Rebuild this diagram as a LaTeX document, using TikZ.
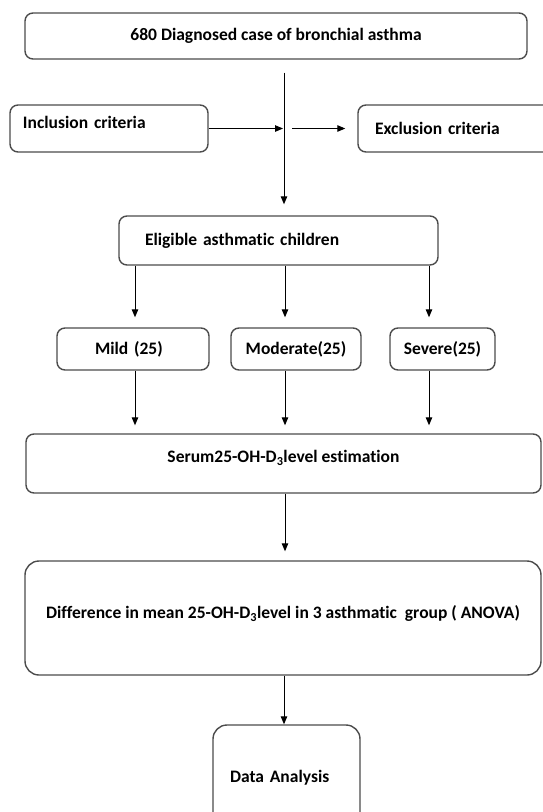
\documentclass[tikz,border=0pt]{standalone}
\usepackage{fontspec}
\setmainfont{Carlito}[Ligatures=NoCommon]
\usepackage{tikz}
\usetikzlibrary{arrows.meta}
\usetikzlibrary{positioning}

\begin{document}
\begin{tikzpicture}[
        x=1pt, y=-1pt,
        every node/.append style={font=\fontsize{17.5}{20}\selectfont\bfseries},
        stage/.style={draw=black!70, line width=1.4pt, rounded corners=8pt, align=center, inner sep=0pt},
        bigstage/.style={stage, rounded corners=14pt},
        arrow/.style={-{Triangle[length=8pt,width=6.5pt]}, line width=1pt, black},
    ]
    \fill[white] (0,0) rectangle (542,812);
    \useasboundingbox (0,0) rectangle (542,812);

    \node[stage, minimum width=502pt, minimum height=46pt] (diag) at (276,36) {680 Diagnosed case of bronchial asthma};
    \node[stage, align=left, inner xsep=13pt, text width=172pt, minimum height=47pt, text depth=12pt] (incl) at (109,128.5) {Inclusion criteria};
    \node[stage, align=left, inner xsep=17pt, text width=178pt, minimum height=47pt] (excl) at (464,128.5) {Exclusion criteria};
    \node[stage, align=left, inner xsep=26pt, text width=267pt, minimum height=49pt] (elig) at (278.5,240.5) {Eligible asthmatic children};

    \node[stage, align=left, inner xsep=38pt, text width=76pt, minimum height=42pt] (mild) at (133,349) {Mild (25)};
    \node[stage, minimum width=130pt, minimum height=42pt] (mod) at (296,349) {Moderate(25)};
    \node[stage, minimum width=105pt, minimum height=42pt] (sev) at (442.5,349) {Severe(25)};

    \node[stage, minimum width=515pt, minimum height=59pt, text depth=14pt] (serum) at (283.5,463.5) {Serum25-OH-D\textsubscript{3}level estimation};
    \node[bigstage, minimum width=516pt, minimum height=114pt, text depth=12pt] (diff) at (283,618) {Difference in mean 25-OH-D\textsubscript{3}level in 3 asthmatic\ \ group ( ANOVA)};
    \node[bigstage, align=left, inner xsep=17pt, text width=113pt, minimum height=105pt] (data) at (286.5,777.5) {Data Analysis};

    % junction on the main line and the three columns
    \coordinate (jn) at (284,128.5);
    \coordinate (colA) at (135,349);
    \coordinate (colB) at (285,349);
    \coordinate (colC) at (429,349);

    \draw[arrow, shorten <=13pt, shorten >=11pt] (diag.south -| jn) -- (elig.north -| jn);
    \draw[arrow, shorten >=1pt] (incl) -- (jn);
    \draw[arrow, shorten <=8pt, shorten >=12pt] (jn) -- (excl);

    \draw[arrow, shorten >=10pt] (elig.south -| colA) -- (mild.north -| colA);
    \draw[arrow, shorten >=10pt] (elig.south -| colB) -- (mod.north -| colB);
    \draw[arrow, shorten >=10pt] (elig.south -| colC) -- (sev.north -| colC);
    \draw[arrow, shorten >=8pt] (mild.south -| colA) -- (serum.north -| colA);
    \draw[arrow, shorten >=8pt] (mod.south -| colB) -- (serum.north -| colB);
    \draw[arrow, shorten >=8pt] (sev.south -| colC) -- (serum.north -| colC);

    \draw[arrow, shorten >=9pt] (serum.south -| colB) -- (diff.north -| colB);
    \draw[arrow] (diff.south -| jn) -- (data.north -| jn);
\end{tikzpicture}
\end{document}
